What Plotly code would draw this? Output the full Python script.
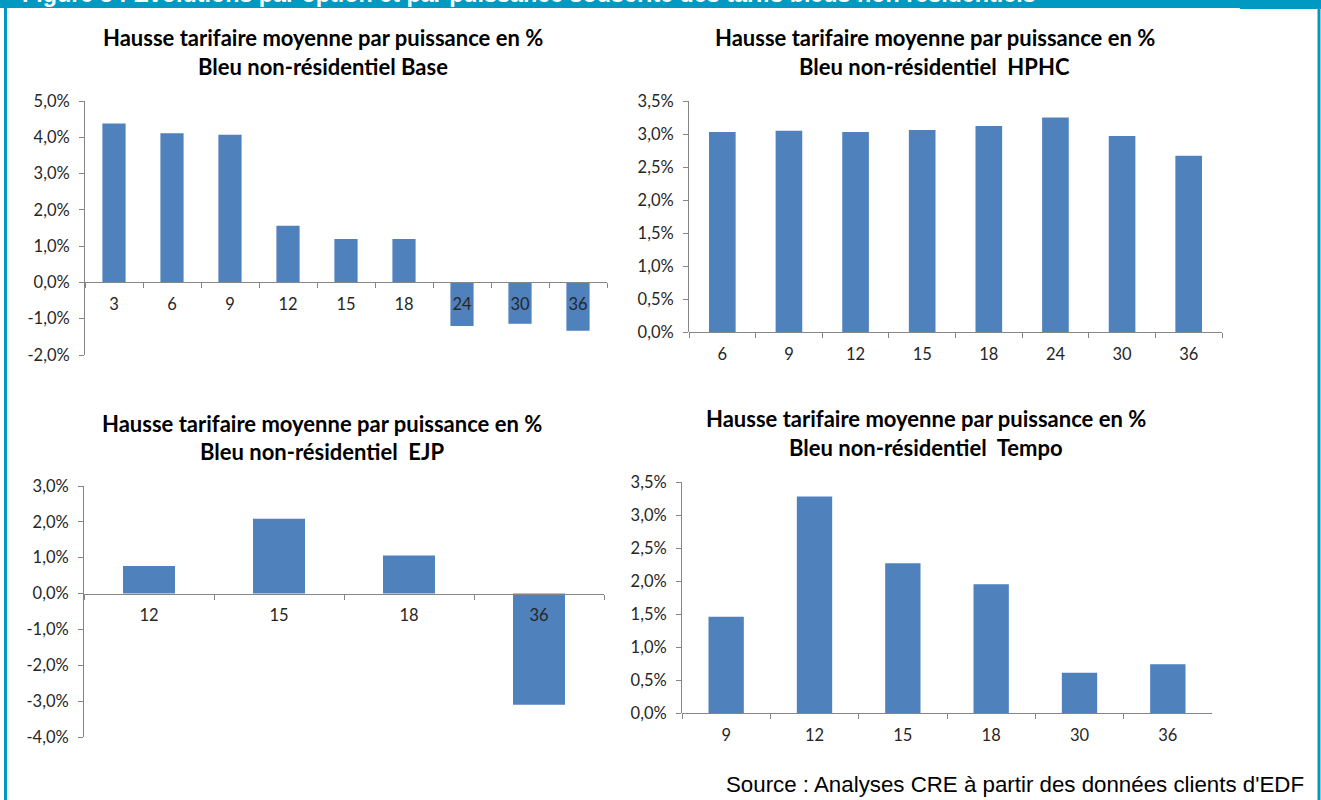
import plotly.graph_objects as go

W, H = 1321, 800

# Average tariff increase (%) by subscribed power (kVA), per tariff option
base_cats = ["3", "6", "9", "12", "15", "18", "24", "30", "36"]
base_vals = [4.38, 4.11, 4.07, 1.56, 1.20, 1.20, -1.20, -1.14, -1.33]

hphc_cats = ["6", "9", "12", "15", "18", "24", "30", "36"]
hphc_vals = [3.03, 3.05, 3.03, 3.06, 3.12, 3.25, 2.97, 2.67]

ejp_cats = ["12", "15", "18", "36"]
ejp_vals = [0.77, 2.09, 1.06, -3.10]

tempo_cats = ["9", "12", "15", "18", "30", "36"]
tempo_vals = [1.46, 3.28, 2.27, 1.95, 0.61, 0.74]

base_ticks = [5.0, 4.0, 3.0, 2.0, 1.0, 0.0, -1.0, -2.0]
hphc_ticks = [3.5, 3.0, 2.5, 2.0, 1.5, 1.0, 0.5, 0.0]
ejp_ticks = [3.0, 2.0, 1.0, 0.0, -1.0, -2.0, -3.0, -4.0]
tempo_ticks = [3.5, 3.0, 2.5, 2.0, 1.5, 1.0, 0.5, 0.0]

title_line1 = "Hausse tarifaire moyenne par puissance en %"
base_title = "Bleu non-résidentiel Base"
hphc_title = "Bleu non-résidentiel  HPHC"
ejp_title = "Bleu non-résidentiel  EJP"
tempo_title = "Bleu non-résidentiel  Tempo"

header_text = ("Figure 3 : Evolutions par option et par puissance souscrite "
               "des tarifs bleus non résidentiels")
source_text = "Source : Analyses CRE à partir des données clients d'EDF"

BAR = "#4F81BD"
AXIS = "#868686"
TEAL = "#0099C2"
TXT = "#262626"


def px_x(x):
    return x / W


def px_y(y):
    return 1 - y / H


def pct_label(v):
    return f"{v:.1f}%".replace(".", ",")


# pixel boxes: (left, right, top, bottom), title x-centre, title line y's
panels = [
    dict(cats=base_cats, vals=base_vals, ticks=base_ticks, sub=base_title,
         box=(85, 607, 101, 355), tx=323, ty=(38, 66)),
    dict(cats=hphc_cats, vals=hphc_vals, ticks=hphc_ticks, sub=hphc_title,
         box=(689, 1222, 101, 332), tx=935, ty=(38, 66)),
    dict(cats=ejp_cats, vals=ejp_vals, ticks=ejp_ticks, sub=ejp_title,
         box=(84, 604, 486, 737), tx=322, ty=(423, 452)),
    dict(cats=tempo_cats, vals=tempo_vals, ticks=tempo_ticks, sub=tempo_title,
         box=(682, 1212, 482, 713), tx=926, ty=(418, 447)),
]

fig = go.Figure()
tick_font = dict(family="Lato", size=16.5, color=TXT)
title_font = dict(family="Lato", size=22, color="#000000")
annotations = []

for i, p in enumerate(panels, start=1):
    xa = "x" if i == 1 else f"x{i}"
    ya = "y" if i == 1 else f"y{i}"
    fig.add_trace(go.Bar(x=p["cats"], y=p["vals"], width=0.4,
                         marker=dict(color=BAR, line=dict(width=0)),
                         xaxis=xa, yaxis=ya, showlegend=False,
                         hovertemplate="%{x} kVA : %{y:.2f}%<extra></extra>"))
    l, r, t, b = p["box"]
    ymin, ymax = min(p["ticks"]), max(p["ticks"])
    y0, y1 = px_y(b), px_y(t)
    zero_pos = y0 + (0 - ymin) / (ymax - ymin) * (y1 - y0)
    xkey = "xaxis" if i == 1 else f"xaxis{i}"
    ykey = "yaxis" if i == 1 else f"yaxis{i}"
    fig.update_layout({
        xkey: dict(domain=[px_x(l), px_x(r)], type="category",
                   range=[-0.5, len(p["cats"]) - 0.5],
                   anchor="free", position=zero_pos,
                   showline=True, linecolor=AXIS, linewidth=1,
                   ticks="outside", tickson="boundaries", ticklen=5,
                   tickcolor=AXIS, showgrid=False, zeroline=False,
                   ticklabelstandoff=7,
                   tickfont=tick_font, fixedrange=True),
        ykey: dict(domain=[y0, y1], range=[ymin, ymax], anchor=xa,
                   tickvals=p["ticks"],
                   ticktext=[pct_label(v) for v in p["ticks"]],
                   showline=True, linecolor=AXIS, linewidth=1,
                   ticks="outside", ticklen=5, tickcolor=AXIS,
                   showgrid=False, zeroline=False,
                   ticklabelstandoff=6,
                   tickfont=tick_font, fixedrange=True),
    })
    for line_text, yy in zip((title_line1, p["sub"]), p["ty"]):
        annotations.append(dict(text=f"<b>{line_text}</b>", x=px_x(p["tx"]),
                                y=px_y(yy), xref="paper", yref="paper",
                                xanchor="center", yanchor="middle",
                                showarrow=False, font=title_font))

annotations.append(dict(text=source_text, x=px_x(1306), y=px_y(784),
                        xref="paper", yref="paper", xanchor="right",
                        yanchor="middle", showarrow=False,
                        font=dict(family="Liberation Sans", size=22.3,
                                  color="#000000")))
# page header band: its caption sits mostly above the top edge
annotations.append(dict(text=f"<b>{header_text}</b>", x=px_x(20),
                        y=px_y(-6), xref="paper", yref="paper",
                        xanchor="left", yanchor="middle", showarrow=False,
                        font=dict(family="Liberation Sans", size=23.3,
                                  color="#FFFFFF")))

shapes = [
    dict(type="rect", xref="paper", yref="paper", x0=0, x1=1,
         y0=px_y(8), y1=1.02, fillcolor=TEAL, line=dict(width=0),
         layer="below"),
    dict(type="rect", xref="paper", yref="paper", x0=px_x(1240), x1=1,
         y0=px_y(9), y1=1.02, fillcolor=TEAL, line=dict(width=0),
         layer="below"),
    dict(type="rect", xref="paper", yref="paper", x0=px_x(4), x1=px_x(7),
         y0=0, y1=1, fillcolor=TEAL, line=dict(width=0), layer="below"),
    dict(type="rect", xref="paper", yref="paper", x0=px_x(1317.5),
         x1=px_x(1320.5), y0=0, y1=1, fillcolor=TEAL, line=dict(width=0),
         layer="below"),
]

fig.update_layout(width=W, height=H, autosize=False,
                  margin=dict(l=0, r=0, t=0, b=0, autoexpand=False),
                  paper_bgcolor="white", plot_bgcolor="white",
                  annotations=annotations, shapes=shapes, bargap=0.6)

fig.write_html("out.html")
